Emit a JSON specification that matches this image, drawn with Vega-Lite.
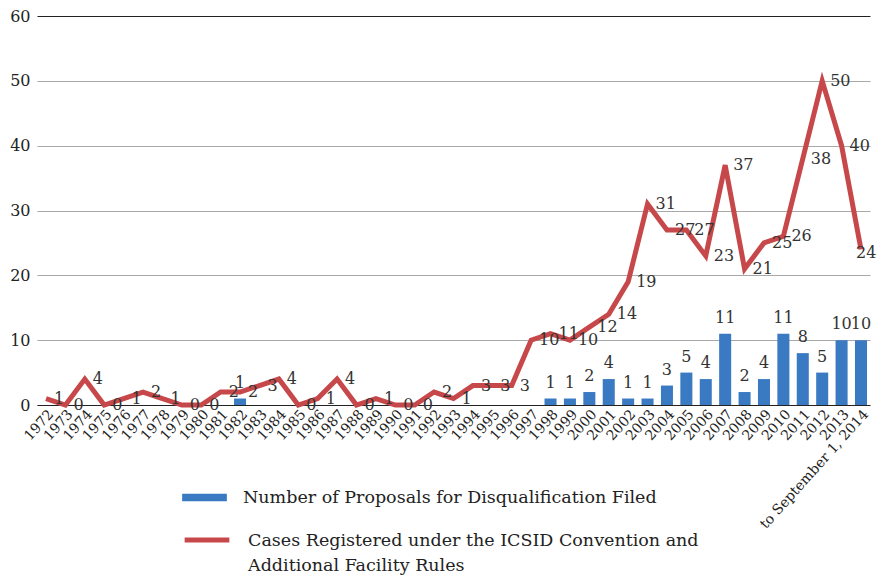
{
  "$schema": "https://vega.github.io/schema/vega-lite/v6.json",
  "autosize": "none",
  "width": 833,
  "height": 389,
  "padding": {"left": 37, "top": 16, "right": 7, "bottom": 171},
  "background": "white",
  "config": {
    "font": "DejaVu Serif",
    "view": {"stroke": null},
    "text": {"font": "DejaVu Serif"},
    "axis": {"labelFont": "DejaVu Serif", "labelColor": "#222"},
    "legend": {"labelFont": "DejaVu Serif", "labelColor": "#222"}
  },
  "data": {
    "values": [
      {"year": "1972", "cases": 1, "proposals": 0},
      {"year": "1973", "cases": 0, "proposals": 0},
      {"year": "1974", "cases": 4, "proposals": 0},
      {"year": "1975", "cases": 0, "proposals": 0},
      {"year": "1976", "cases": 1, "proposals": 0},
      {"year": "1977", "cases": 2, "proposals": 0},
      {"year": "1978", "cases": 1, "proposals": 0},
      {"year": "1979", "cases": 0, "proposals": 0},
      {"year": "1980", "cases": 0, "proposals": 0},
      {"year": "1981", "cases": 2, "proposals": 0},
      {"year": "1982", "cases": 2, "proposals": 1},
      {"year": "1983", "cases": 3, "proposals": 0},
      {"year": "1984", "cases": 4, "proposals": 0},
      {"year": "1985", "cases": 0, "proposals": 0},
      {"year": "1986", "cases": 1, "proposals": 0},
      {"year": "1987", "cases": 4, "proposals": 0},
      {"year": "1988", "cases": 0, "proposals": 0},
      {"year": "1989", "cases": 1, "proposals": 0},
      {"year": "1990", "cases": 0, "proposals": 0},
      {"year": "1991", "cases": 0, "proposals": 0},
      {"year": "1992", "cases": 2, "proposals": 0},
      {"year": "1993", "cases": 1, "proposals": 0},
      {"year": "1994", "cases": 3, "proposals": 0},
      {"year": "1995", "cases": 3, "proposals": 0},
      {"year": "1996", "cases": 3, "proposals": 0},
      {"year": "1997", "cases": 10, "proposals": 0},
      {"year": "1998", "cases": 11, "proposals": 1},
      {"year": "1999", "cases": 10, "proposals": 1},
      {"year": "2000", "cases": 12, "proposals": 2},
      {"year": "2001", "cases": 14, "proposals": 4},
      {"year": "2002", "cases": 19, "proposals": 1},
      {"year": "2003", "cases": 31, "proposals": 1},
      {"year": "2004", "cases": 27, "proposals": 3},
      {"year": "2005", "cases": 27, "proposals": 5},
      {"year": "2006", "cases": 23, "proposals": 4},
      {"year": "2007", "cases": 37, "proposals": 11},
      {"year": "2008", "cases": 21, "proposals": 2},
      {"year": "2009", "cases": 25, "proposals": 4},
      {"year": "2010", "cases": 26, "proposals": 11},
      {"year": "2011", "cases": 38, "proposals": 8},
      {"year": "2012", "cases": 50, "proposals": 5},
      {"year": "2013", "cases": 40, "proposals": 10},
      {"year": "2014", "cases": 24, "proposals": 10}
    ]
  },
  "encoding": {
    "x": {
      "field": "year",
      "type": "nominal",
      "sort": "ascending",
      "scale": {"paddingInner": 0.38, "paddingOuter": 0.154},
      "axis": {
        "title": null,
        "labelAngle": -48,
        "labelFont": "DejaVu Serif",
        "labelFontSize": 14,
        "labelAlign": "right",
        "labelBaseline": "top",
        "labelPadding": 2,
        "labelExpr": "datum.value == '2014' ? 'to September 1, 2014' : datum.value",
        "ticks": false,
        "domainColor": "#222",
        "domainWidth": 1.2
      }
    }
  },
  "layer": [
    {
      "mark": {"type": "bar"},
      "transform": [{"filter": "datum.proposals > 0"}],
      "encoding": {
        "y": {
          "field": "proposals",
          "type": "quantitative",
          "scale": {"domain": [0, 60]},
          "axis": {
            "title": null,
            "values": [0, 10, 20, 30, 40, 50, 60],
            "labelFont": "DejaVu Serif",
            "labelFontSize": 16,
            "labelPadding": 7,
            "domain": false,
            "ticks": false,
            "gridColor": {"condition": {"test": "datum.value == 60", "value": "#222"}, "value": "#a8a8a8"},
            "gridWidth": 1.2
          }
        },
        "color": {
          "datum": "Number of Proposals for Disqualification Filed",
          "type": "nominal",
          "scale": {"range": ["#3a7ac3"]},
          "legend": {
            "title": null,
            "orient": "none",
            "legendX": 145,
            "legendY": 459,
            "symbolType": "M-1,-0.17H1V0.17H-1Z",
            "symbolSize": 2000,
            "symbolStrokeWidth": 0,
            "labelFont": "DejaVu Serif",
            "labelFontSize": 17.5,
            "labelOffset": 16,
            "labelLimit": 600
          }
        }
      }
    },
    {
      "mark": {"type": "line", "strokeWidth": 5, "strokeJoin": "miter", "strokeCap": "butt"},
      "encoding": {
        "y": {"field": "cases", "type": "quantitative"},
        "stroke": {
          "datum": "Cases Registered under the ICSID Convention and Additional Facility Rules",
          "type": "nominal",
          "scale": {"range": ["#c7484a"]},
          "legend": {
            "title": null,
            "orient": "none",
            "legendX": 145,
            "legendY": 499,
            "symbolType": "stroke",
            "symbolSize": 2000,
            "symbolStrokeWidth": 5,
            "labelFont": "DejaVu Serif",
            "labelFontSize": 17.5,
            "labelOffset": 16,
            "labelLimit": 600,
            "labelBaseline": "alphabetic",
            "labelExpr": "['Cases Registered under the ICSID Convention and', 'Additional Facility Rules']",
            "encode": {"labels": {"update": {"dy": {"value": 6}, "lineHeight": {"value": 25}}}}
          }
        }
      }
    },
    {
      "mark": {
        "type": "text",
        "font": "DejaVu Serif",
        "align": "left",
        "baseline": "middle",
        "dx": {"expr": "datum.year == '2014' ? -5 : 8"},
        "dy": {"expr": "datum.year == '2014' ? 4 : 0"},
        "fontSize": 16,
        "color": "#333"
      },
      "encoding": {
        "y": {"field": "cases", "type": "quantitative"},
        "text": {"field": "cases", "type": "quantitative"}
      }
    },
    {
      "mark": {"type": "text", "font": "DejaVu Serif", "align": "center", "baseline": "bottom", "dy": -8, "fontSize": 16, "color": "#333"},
      "transform": [{"filter": "datum.proposals > 0"}],
      "encoding": {
        "y": {"field": "proposals", "type": "quantitative"},
        "text": {"field": "proposals", "type": "quantitative"}
      }
    }
  ]
}
